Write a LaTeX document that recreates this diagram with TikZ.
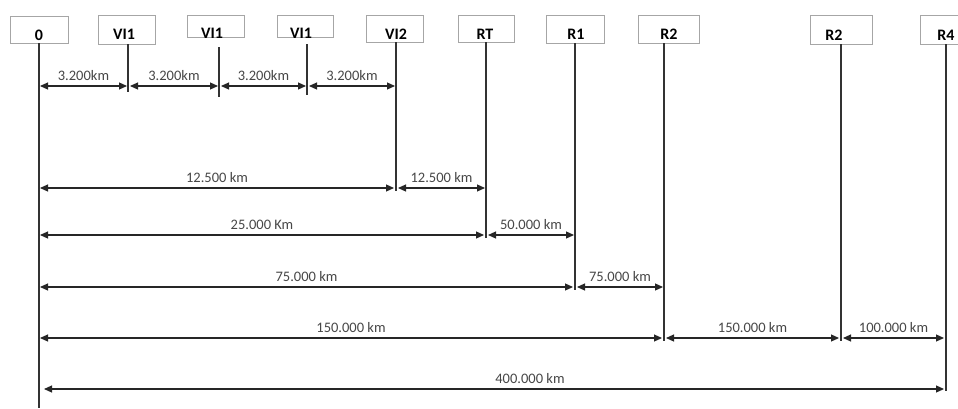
\documentclass[tikz,border=0pt]{standalone}
\usepackage{fontspec}
\setmainfont{Carlito}
\usetikzlibrary{arrows.meta}
\begin{document}
\begin{tikzpicture}[x=1pt,y=-1pt,
  box/.style={draw=black!35,line width=0.8pt,fill=white,inner sep=0pt,anchor=north west},
  tag/.style={font=\fontsize{16}{18}\selectfont\bfseries,inner sep=0pt,anchor=center},
  vline/.style={draw=black!80,line width=1.1pt},
  dim/.style={draw=black!85,line width=1.1pt,{Triangle[length=8pt,width=7pt]}-{Triangle[length=8pt,width=7pt]}},
  dlab/.style={font=\fontsize{14.5}{16}\selectfont,text=black!72,inner sep=0pt,above=5pt}]
\useasboundingbox[fill=white] (0,0) rectangle (958,408);
% boxes
\node[box,minimum width=58pt,minimum height=27pt] (b0) at (10,16) {};
\node[box,minimum width=57pt,minimum height=29pt] (b1) at (98,15) {};
\node[box,minimum width=57pt,minimum height=22pt] (b2) at (187,15) {};
\node[box,minimum width=56pt,minimum height=22pt] (b3) at (277,15) {};
\node[box,minimum width=57pt,minimum height=27pt] (b4) at (366,15) {};
\node[box,minimum width=56pt,minimum height=27pt] (b5) at (458,15) {};
\node[box,minimum width=58pt,minimum height=28pt] (b6) at (546,15) {};
\node[box,minimum width=61pt,minimum height=28pt] (b7) at (638,15) {};
\node[box,minimum width=62pt,minimum height=29pt] (b8) at (810,15) {};
\node[box,minimum width=62pt,minimum height=29pt] (b9) at (920,15) {};
% box texts
\node[tag] (t0) at (39,35) {0};
\node[tag] (t1) at (124,34) {VI1};
\node[tag] (t2) at (212,33) {VI1};
\node[tag] (t3) at (301,33) {VI1};
\node[tag] (t4) at (396,34) {VI2};
\node[tag] (t5) at (485,34) {RT};
\node[tag] (t6) at (576,34) {R1};
\node[tag] (t7) at (669,34) {R2};
\node[tag] (t8) at (834,35) {R2};
\node[tag] (t9) at (946,35) {R4};
% vertical lines
\coordinate (L0a) at (39,43);  \coordinate (L0b) at (39,408);
\coordinate (L1a) at (128,44); \coordinate (L1b) at (128,92);
\coordinate (L2a) at (219,47); \coordinate (L2b) at (219,97);
\coordinate (L3a) at (307,44); \coordinate (L3b) at (307,95);
\coordinate (L4a) at (396,42); \coordinate (L4b) at (396,191);
\coordinate (L5a) at (486,42); \coordinate (L5b) at (486,238);
\coordinate (L6a) at (575,43); \coordinate (L6b) at (575,290);
\coordinate (L7a) at (664,43); \coordinate (L7b) at (664,341);
\coordinate (L8a) at (841,44); \coordinate (L8b) at (841,341);
\coordinate (L9a) at (946,44); \coordinate (L9b) at (946,391);
\draw[vline] (L0a) -- (L0b);
\draw[vline] (L1a) -- (L1b);
\draw[vline,line width=1.6pt] (L2a) -- (L2b);
\draw[vline] (L3a) -- (L3b);
\draw[vline] (L4a) -- (L4b);
\draw[vline] (L5a) -- (L5b);
\draw[vline] (L6a) -- (L6b);
\draw[vline] (L7a) -- (L7b);
\draw[vline] (L8a) -- (L8b);
\draw[vline] (L9a) -- (L9b);
% rows
\coordinate (r1) at (0,86);
\coordinate (r2) at (0,188);
\coordinate (r3) at (0,235);
\coordinate (r4) at (0,287);
\coordinate (r5) at (0,338);
\coordinate (r6) at (0,389);
\draw[dim] ([xshift=1pt]L0a |- r1) -- ([xshift=-1pt]L1a |- r1) node[dlab,midway] {3.200km};
\draw[dim] ([xshift=2pt]L1a |- r1) -- ([xshift=-1pt]L2a |- r1) node[dlab,midway] {3.200km};
\draw[dim] ([xshift=2pt]L2a |- r1) -- ([xshift=-1pt]L3a |- r1) node[dlab,midway] {3.200km};
\draw[dim] ([xshift=2pt]L3a |- r1) -- ([xshift=-1pt]L4a |- r1) node[dlab,midway] {3.200km};
\draw[dim] ([xshift=1pt]L0a |- r2) -- ([xshift=-2pt]L4a |- r2) node[dlab,midway] {12.500 km};
\draw[dim] ([xshift=2pt]L4a |- r2) -- ([xshift=-1pt]L5a |- r2) node[dlab,midway] {12.500 km};
\draw[dim] ([xshift=1pt]L0a |- r3) -- ([xshift=-2pt]L5a |- r3) node[dlab,midway] {25.000 Km};
\draw[dim] ([xshift=2pt]L5a |- r3) -- ([xshift=-1pt]L6a |- r3) node[dlab,midway] {50.000 km};
\draw[dim] ([xshift=1pt]L0a |- r4) -- ([xshift=-2pt]L6a |- r4) node[dlab,midway] {75.000 km};
\draw[dim] ([xshift=2pt]L6a |- r4) -- ([xshift=-1pt]L7a |- r4) node[dlab,midway] {75.000 km};
\draw[dim] ([xshift=1pt]L0a |- r5) -- ([xshift=-2pt]L7a |- r5) node[dlab,midway] {150.000 km};
\draw[dim] ([xshift=2pt]L7a |- r5) -- ([xshift=-2pt]L8a |- r5) node[dlab,midway] {150.000 km};
\draw[dim] ([xshift=2pt]L8a |- r5) -- ([xshift=-2pt]L9a |- r5) node[dlab,midway] {100.000 km};
\draw[dim] ([xshift=5pt]L0a |- r6) -- ([xshift=-2pt]L9a |- r6) node[dlab,pos=0.54] {400.000 km};
\end{tikzpicture}
\end{document}
